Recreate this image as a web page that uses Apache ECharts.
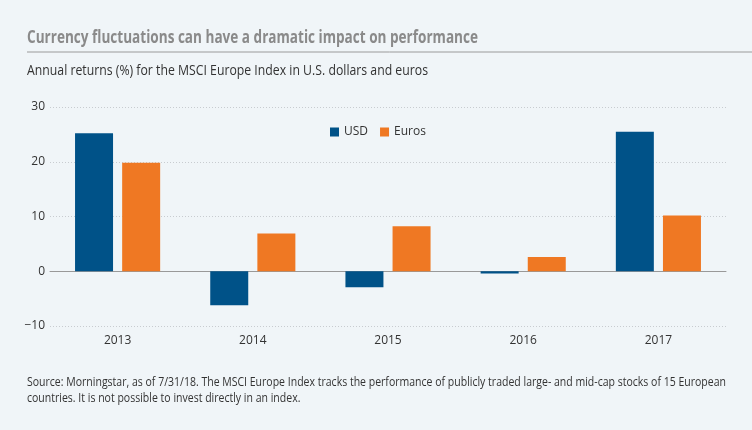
<!DOCTYPE html>
<html>
<head>
<meta charset="utf-8">
<script src="https://cdn.jsdelivr.net/npm/echarts@6/dist/echarts.min.js"></script>
<style>
  html, body { margin: 0; padding: 0; background: #f0f5f8; }
  #chart { width: 752px; height: 430px; }
</style>
</head>
<body>
<div id="chart"></div>
<script>
// data
const years = ['2013', '2014', '2015', '2016', '2017']
const usd = [25.2, -6.2, -2.9, -0.4, 25.5]
const euros = [19.8, 6.9, 8.2, 2.6, 10.2]
const yTicks = { min: -10, max: 30, step: 10 }

const titleText = 'Currency fluctuations can have a dramatic impact on performance'
const subText = 'Annual returns (%) for the MSCI Europe Index in U.S. dollars and euros'
const noteLines = [
    'Source: Morningstar, as of 7/31/18. The MSCI Europe Index tracks the performance of publicly traded large- and mid-cap stocks of 15 European',
    'countries. It is not possible to invest directly in an index.'
]

const fam = '"Open Sans", sans-serif'

// the original uses a condensed face; squeeze the text to the same width
const ctx = document.createElement('canvas').getContext('2d')
const squeeze = (text, size, weight, width) => {
    ctx.font = weight + ' ' + size + 'px "Open Sans"'
    return width / ctx.measureText(text).width
}

const chart = echarts.init(document.getElementById('chart'))

const textEl = (text, x, y, size, weight, color, sx) => ({
    type: 'text', x: x, y: y, scaleX: sx,
    style: {
        text: text, fontSize: size, fontWeight: weight, fontFamily: fam,
        fill: color, verticalAlign: 'middle', align: 'left'
    }
})

const noteScale = squeeze(noteLines[0], 12, 'normal', 699)

const option = {
    backgroundColor: '#f0f5f8',
    textStyle: { fontFamily: fam },
    graphic: [
        textEl(titleText, 27, 38, 17, 'bold', '#8a8a8a', squeeze(titleText, 17, 'bold', 451)),
        {
            type: 'line',
            shape: { x1: 27, y1: 52, x2: 752, y2: 52 },
            style: { stroke: '#9a9a9a', lineWidth: 1 }
        },
        textEl(subText, 27, 71, 14.5, 'normal', '#333', squeeze(subText, 14.5, 'normal', 401)),
        textEl(noteLines[0], 27, 383, 12, 'normal', '#333', noteScale),
        textEl(noteLines[1], 27, 399, 12, 'normal', '#333', noteScale)
    ],
    legend: {
        left: 330, top: 126, padding: 0,
        icon: 'rect', itemWidth: 9, itemHeight: 9, itemGap: 12,
        textStyle: { fontSize: 12, color: '#333' }
    },
    grid: { left: 50, right: 26, top: 107, bottom: 104 },
    xAxis: {
        type: 'category',
        data: years,
        axisLine: { lineStyle: { color: '#999', width: 1 } },
        axisTick: { show: false },
        axisLabel: { color: '#333', fontSize: 12, margin: 9 }
    },
    yAxis: {
        type: 'value',
        min: yTicks.min, max: yTicks.max, interval: yTicks.step,
        axisLine: { show: false },
        axisTick: { show: false },
        axisLabel: {
            color: '#333', fontSize: 12, margin: 5,
            formatter: v => String(v).replace('-', '\u2212')
        },
        splitLine: { lineStyle: { color: '#c8ccd0', type: [1, 2], width: 1 } }
    },
    series: [
        {
            name: 'USD', type: 'bar', data: usd,
            barWidth: 38, barGap: '24%',
            itemStyle: { color: '#005288' }
        },
        {
            name: 'Euros', type: 'bar', data: euros,
            barWidth: 38,
            itemStyle: { color: '#ef7823' }
        }
    ]
}

chart.setOption(option)
</script>
</body>
</html>
